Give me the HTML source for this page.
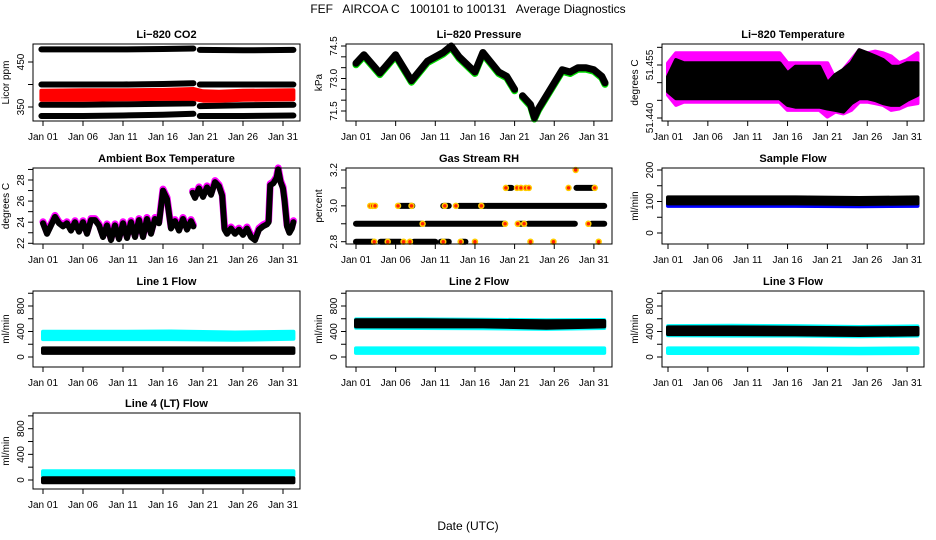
<!DOCTYPE html>
<html><head><meta charset="utf-8"><style>
html,body{margin:0;padding:0;background:#fff;}
svg{display:block;font-family:"Liberation Sans",Arial,sans-serif;}
</style></head><body>
<svg id="chart" width="936" height="540" viewBox="0 0 936 540">
<text x="468" y="13" text-anchor="middle" font-size="12" style="white-space:pre">FEF   AIRCOA C   100101 to 100131   Average Diagnostics</text>
<text x="468" y="530" text-anchor="middle" font-size="12">Date (UTC)</text>
</svg>
<script>
// ---- x axis ----
const xTickDays = [0,5,10,15,20,25,30];
const xTickLabels = ["Jan 01","Jan 06","Jan 11","Jan 16","Jan 21","Jan 26","Jan 31"];

// ---- CO2 (ppm) ----
const co2Days = [-0.2,5,10,15,18.8,null,19.6,25,31.3];
const co2A = [478,478,478,479,480,null,477,476,477];
const co2B = [400,400,400,401,403,null,400,400,400];
const co2C = [355,355,356,357,358,null,352,354,355];
const co2D = [330,330,331,333,335,null,330,330,331];
const co2RedDays = [-0.2,5,10,15,18.8,20,22,25,31.3];
const co2RedLo = [366,366,367,368,368,364,364,366,367];
const co2RedHi = [386,387,387,388,390,385,384,386,387];

// ---- Pressure (kPa) ----
const presDays = [0,1,3,5,7,9,11,12,13,15,16,18,19,20,null,20.5,null,21,22,22.5,23,25,26,27,28,29,30,31,31.4];
const presVals = [73.7,74.1,73.25,74.1,72.9,73.8,74.2,74.5,74.0,73.3,74.2,73.3,73.1,72.5,null,71.9,null,72.2,71.8,71.2,71.6,72.8,73.4,73.3,73.5,73.5,73.4,73.1,72.8];
const presTicks = [74.5,74.0,73.5,73.0,72.5,72.0,71.5];
const presTickLabels = ["74.5","","","73.0","","","71.5"];

// ---- Li-820 temperature bands ----
const tempDays = [0,1,2,14,15,16,19,20,21,22,23,24,25,26,27,28,29,30,31.3];
const tempMagHi = [51.4555,51.4583,51.4583,51.4583,51.4555,51.4555,51.4555,51.4555,51.4508,51.4536,51.4564,51.4592,51.4583,51.4588,51.4583,51.4574,51.4555,51.4564,51.4583];
const tempMagLo = [51.4465,51.4437,51.4446,51.4446,51.4423,51.4423,51.4423,51.4404,51.4418,51.4413,51.4423,51.4446,51.4446,51.4442,51.4437,51.4423,51.4427,51.4437,51.4442];
const tempBlkHi = [51.4517,51.4564,51.4555,51.4555,51.4526,51.4545,51.4545,51.4498,51.4522,51.4536,51.4555,51.4592,51.4583,51.4574,51.4564,51.4545,51.4545,51.4555,51.4555];
const tempBlkLo = [51.4475,51.4456,51.4456,51.4456,51.4437,51.4432,51.4432,51.4427,51.4423,51.4418,51.4442,51.4456,51.4456,51.4451,51.4442,51.4437,51.4437,51.4451,51.4465];

// ---- Ambient box temperature ----
const ambDays = [0,0.5,1,1.5,2,2.5,3,3.5,4,4.5,5,5.5,6,6.5,7,7.5,8,8.5,9,9.5,10,10.5,11,11.5,12,12.5,13,13.5,14,14.5,15,15.5,16,16.5,17,17.5,18,18.5,18.8,null,
 18.7,19,19.5,20,20.5,21,21.5,22,22.4,22.7,23,23.5,24,24.5,25,25.5,26,26.5,27,27.5,28,28.2,28.4,28.8,29.2,29.4,29.7,30,30.2,30.5,30.8,31.1,31.3];
const ambVals = [23.9,22.9,23.7,24.5,23.9,23.6,23.9,23.2,24,23.1,24,22.9,24.2,24.2,23.7,22.6,23.7,22.3,23.7,22.4,23.9,22.5,24,22.6,24.2,22.6,24.3,22.9,24.3,23.9,27,26.2,23.4,24.1,23.2,24.3,23.3,24.1,23.6,null,
 26.8,26.3,27.2,26.4,27.3,26.6,27.8,27.4,26.5,23.3,22.9,23.4,22.9,23.3,22.8,23.4,22.6,22.3,23.3,23.6,23.8,24,27.5,27.7,28.2,29,27.8,27.2,26,23.6,23,23.4,24];

// ---- Gas stream RH ----
const rhLevel = [2.8,2.8,2.8,2.8,2.8,2.9,2.9,2.9,2.9,2.9,3.0,3.0,3.0,3.0,3.1,3.1];
const rhStart = [0,3.1,7.3,10.7,13.4,0,8.8,20.5,21.7,29.7,5.4,11,13,16.5,19.2,27.8];
const rhEnd = [2.1,5.6,10.0,11.7,13.8,8.4,18.8,21.3,27.6,31.3,7.1,11.7,16.3,31.3,19.6,30.1];
const rhPtDay = [2.3,4.0,6.0,6.8,11,13.2,15.0,22.0,24.9,30.6,1.8,2.1,2.4,5.3,7.0,11.2,12.6,15.8,8.4,18.8,20.4,21.2,29.3,18.9,20.3,20.8,21.4,21.8,26.8,30.1,27.7];
const rhPtVal = [2.8,2.8,2.8,2.8,2.8,2.8,2.8,2.8,2.8,2.8,3.0,3.0,3.0,3.0,3.0,3.0,3.0,3.0,2.9,2.9,2.9,2.9,2.9,3.1,3.1,3.1,3.1,3.1,3.1,3.1,3.2];

// ---- Flows (band lo/hi) ----
const flowDays = [0,8,16,24,31.3];
const sampBlueLo = [86,86,86,85,86], sampBlueHi = [100,100,100,99,100];
const sampBlkLo = [94,94,94,92,94], sampBlkHi = [113,113,113,111,113];
const l1CyanLo = [280,280,280,270,285], l1CyanHi = [395,395,400,385,395];
const l1BlkLo = [65,65,65,65,65], l1BlkHi = [135,135,135,135,135];
const l2CyanLo = [460,455,450,440,455], l2CyanHi = [590,590,585,575,580];
const l2BlkLo = [480,480,480,460,480], l2BlkHi = [575,575,570,560,565];
const l2LowLo = [65,65,65,65,65], l2LowHi = [135,135,135,135,135];
const l3CyanLo = [340,335,335,325,335], l3CyanHi = [485,490,485,470,480];
const l3BlkLo = [360,360,355,345,355], l3BlkHi = [465,465,460,450,455];
const l3LowLo = [62,62,62,60,62], l3LowHi = [135,135,135,130,135];
const l4CyanLo = [70,70,70,70,70], l4CyanHi = [138,138,138,138,138];
const l4BlkLo = [-35,-35,-35,-35,-35], l4BlkHi = [28,28,28,28,28];

const NS = "http://www.w3.org/2000/svg";
const svg = document.getElementById('chart');
function el(tag, attrs, parent){
  const e = document.createElementNS(NS, tag);
  for (const k in attrs) e.setAttribute(k, attrs[k]);
  (parent||svg).appendChild(e);
  return e;
}
const cols = [{l:33,r:300,x0:43,ppd:8.0},{l:346,r:612,x0:356,ppd:7.93},{l:662,r:924,x0:668,ppd:7.97}];
const rows = [{t:44,b:121},{t:168,b:244},{t:291,b:367},{t:413,b:489}];

function makePanel(name, c, r, title, ylab, refV1, refY1, refV2, refY2, yTicks, yLabels){
  const C = cols[c], R = rows[r];
  const g = el('g', {});
  
  
  const sx = d => C.x0 + d*C.ppd;
  const sy = v => refY1 + (v-refV1)*(refY2-refY1)/(refV2-refV1);
  const plot = el('g', {}, g);
  
  
  const box = el('rect', {x:C.l, y:R.t, width:C.r-C.l, height:R.b-R.t, fill:'none', stroke:'#000', 'stroke-width':1}, g);
  
  
  const tt = el('text', {x:(C.l+C.r)/2, y:R.t-6, 'text-anchor':'middle', 'font-size':11, 'font-weight':'bold'}, g);
  tt.textContent = title;
  
  
  const yl = el('text', {transform:`translate(${C.l-24},${(R.t+R.b)/2}) rotate(-90)`, 'text-anchor':'middle', 'font-size':10}, g);
  yl.textContent = ylab;
  
  
  el('line', {x1:sx(xTickDays[0]), x2:sx(xTickDays[xTickDays.length-1]), y1:R.b, y2:R.b, stroke:'#000'}, g);
  xTickDays.forEach((d,i)=>{
    el('line', {x1:sx(d), x2:sx(d), y1:R.b, y2:R.b+5, stroke:'#000'}, g);
    const t = el('text', {x:sx(d), y:R.b+19, 'text-anchor':'middle', 'font-size':10}, g);
    t.textContent = xTickLabels[i];
    
    
  });
  const ys = yTicks.map(sy);
  el('line', {x1:C.l, x2:C.l, y1:Math.min(...ys), y2:Math.max(...ys), stroke:'#000'}, g);
  yTicks.forEach((v,i)=>{
    const y = sy(v);
    el('line', {x1:C.l-5, x2:C.l, y1:y, y2:y, stroke:'#000'}, g);
    if (yLabels[i]) {
      const t = el('text', {transform:`translate(${C.l-9},${y}) rotate(-90)`, 'text-anchor':'middle', 'font-size':10}, g);
      t.textContent = yLabels[i];
      
      
    }
  });
  return {plot, sx, sy};
}
function line(P, days, vals, color, w, nm, dy){
  let d = '', pen = false;
  days.forEach((x,i)=>{
    if (x===null || vals[i]===null){ pen=false; return; }
    d += (pen?'L':'M') + P.sx(x).toFixed(1) + ' ' + (P.sy(vals[i])+(dy||0)).toFixed(1) + ' ';
    pen = true;
  });
  const p = el('path', {d, fill:'none', stroke:color, 'stroke-width':w, 'stroke-linejoin':'round', 'stroke-linecap':'round'}, P.plot);
  
  
}
function band(P, days, lo, hi, color, nm){
  let pts = days.map((x,i)=>P.sx(x).toFixed(1)+','+P.sy(hi[i]).toFixed(1));
  pts = pts.concat(days.map((x,i)=>P.sx(x).toFixed(1)+','+P.sy(lo[i]).toFixed(1)).reverse());
  const p = el('polygon', {points:pts.join(' '), fill:color, stroke:color, 'stroke-width':4, 'stroke-linejoin':'round'}, P.plot);
  
  
}

let P = makePanel('co2', 0, 0, 'Li\u2212820 CO2', 'Licor ppm', 450, 62, 350, 107, [350,400,450], ['350','','450']);
line(P, co2Days, co2A, '#000', 6, 'co2-series-high');
line(P, co2Days, co2B, '#000', 6, 'co2-series-400');
line(P, co2Days, co2C, '#000', 6, 'co2-series-355');
line(P, co2Days, co2D, '#000', 6, 'co2-series-low');
band(P, co2RedDays, co2RedLo, co2RedHi, '#ff0000', 'co2-red-series');

P = makePanel('pressure', 1, 0, 'Li\u2212820 Pressure', 'kPa', 74.5, 46, 71.5, 111, presTicks, presTickLabels);
line(P, presDays, presVals, '#00dd00', 7, 'pressure-green-series', 1.5);
line(P, presDays, presVals, '#000', 7, 'pressure-series');

P = makePanel('li820-temp', 2, 0, 'Li\u2212820 Temperature', 'degrees C', 51.455, 65, 51.440, 118, [51.440,51.445,51.450,51.455,51.460], ['51.440','','','51.455','']);
band(P, tempDays, tempMagLo, tempMagHi, '#ff00ff', 'temp-magenta-band');
band(P, tempDays, tempBlkLo, tempBlkHi, '#000', 'temp-black-band');

P = makePanel('ambient', 0, 1, 'Ambient Box Temperature', 'degrees C', 28, 180, 22, 243.3, [22,23,24,25,26,27,28,29], ['22','','24','','26','','28','']);
line(P, ambDays, ambVals, '#ff00ff', 7, 'ambient-magenta-series', -1.5);
line(P, ambDays, ambVals, '#000', 6, 'ambient-series');

P = makePanel('rh', 1, 1, 'Gas Stream RH', 'percent', 3.2, 170, 2.8, 241.7, [2.8,2.9,3.0,3.1,3.2], ['2.8','','3.0','','3.2']);
rhLevel.forEach((v,i)=>{
  const r = el('line', {x1:P.sx(rhStart[i]), x2:P.sx(rhEnd[i]), y1:P.sy(v), y2:P.sy(v), stroke:'#000', 'stroke-width':6, 'stroke-linecap':'round'}, P.plot);
  
  
});
rhPtDay.forEach((d,i)=>{
  const c = el('circle', {cx:P.sx(d), cy:P.sy(rhPtVal[i]), r:2.5, fill:'#ff2200', stroke:'#ffcc00', 'stroke-width':1.5}, P.plot);
  
  
});

P = makePanel('sample-flow', 2, 1, 'Sample Flow', 'ml/min', 200, 170, 0, 233, [0,50,100,150,200], ['0','','100','','200']);
band(P, flowDays, sampBlueLo, sampBlueHi, '#0000ff', 'sample-flow-blue-band');
band(P, flowDays, sampBlkLo, sampBlkHi, '#000', 'sample-flow-band');

const fT = [0,200,400,600,800,1000], fL = ['0','','400','','800',''];
P = makePanel('line1-flow', 0, 2, 'Line 1 Flow', 'ml/min', 0, 357, 800, 306, fT, fL);
band(P, flowDays, l1CyanLo, l1CyanHi, '#00ffff', 'line1-cyan-band');
band(P, flowDays, l1BlkLo, l1BlkHi, '#000', 'line1-black-band');
P = makePanel('line2-flow', 1, 2, 'Line 2 Flow', 'ml/min', 0, 357, 800, 306, fT, fL);
band(P, flowDays, l2CyanLo, l2CyanHi, '#00ffff', 'line2-cyan-band');
band(P, flowDays, l2BlkLo, l2BlkHi, '#000', 'line2-black-band');
band(P, flowDays, l2LowLo, l2LowHi, '#00ffff', 'line2-cyan-low-band');
P = makePanel('line3-flow', 2, 2, 'Line 3 Flow', 'ml/min', 0, 357, 800, 306, fT, fL);
band(P, flowDays, l3CyanLo, l3CyanHi, '#00ffff', 'line3-cyan-band');
band(P, flowDays, l3BlkLo, l3BlkHi, '#000', 'line3-black-band');
band(P, flowDays, l3LowLo, l3LowHi, '#00ffff', 'line3-cyan-low-band');
P = makePanel('line4-flow', 0, 3, 'Line 4 (LT) Flow', 'ml/min', 0, 480, 800, 428.7, fT, fL);
band(P, flowDays, l4CyanLo, l4CyanHi, '#00ffff', 'line4-cyan-band');
band(P, flowDays, l4BlkLo, l4BlkHi, '#000', 'line4-black-band');
</script>
</body></html>
